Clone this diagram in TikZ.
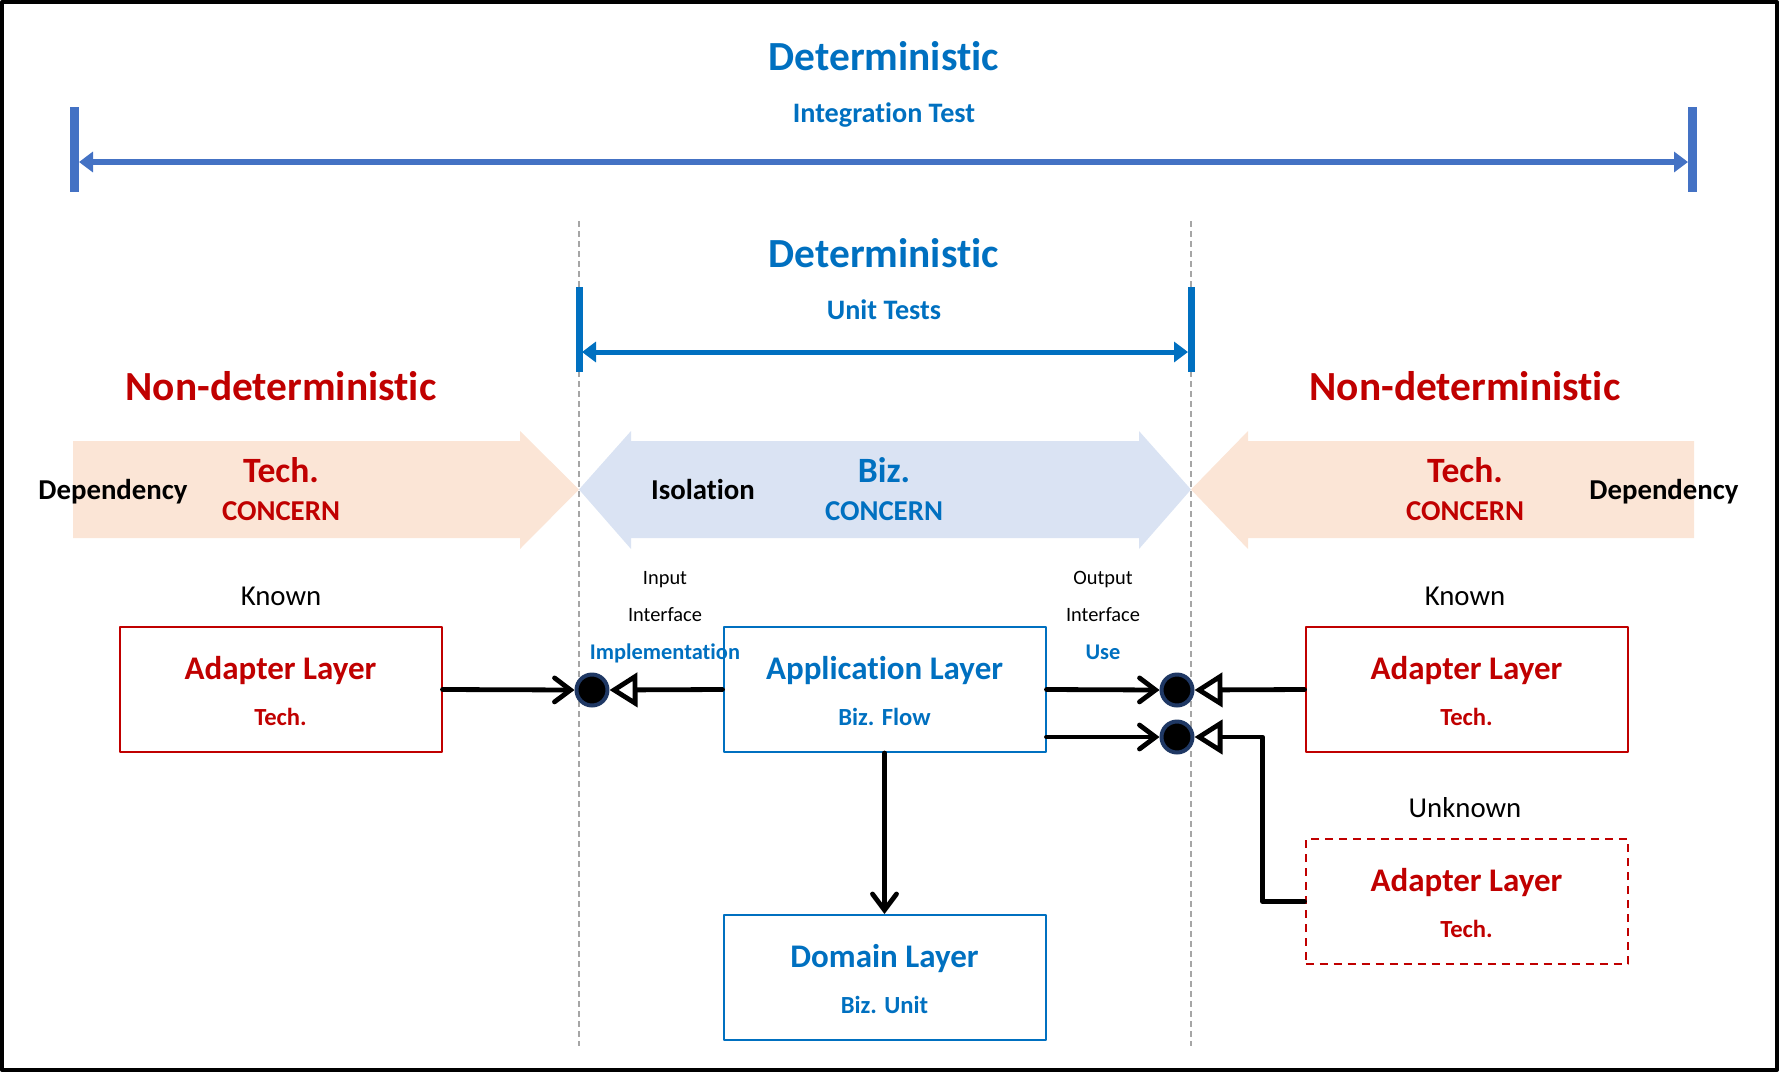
\documentclass[tikz,border=0pt]{standalone}
\usepackage{fontspec}
\setmainfont{Carlito}[Ligatures=NoCommon]
\usetikzlibrary{arrows.meta}
\definecolor{techred}{HTML}{C00000}
\definecolor{bizblue}{HTML}{0070C0}
\definecolor{intblue}{HTML}{4472C4}
\definecolor{techfill}{HTML}{FBE5D6}
\definecolor{bizfill}{HTML}{DAE3F3}
\definecolor{portnavy}{HTML}{1F3864}
\definecolor{guidegray}{HTML}{A6A6A6}
\tikzset{
  txt/.style={anchor=base, inner sep=0pt},
  headline/.style={txt, font=\bfseries\fontsize{20.7}{24}\selectfont},
  testname/.style={txt, font=\bfseries\fontsize{14.1}{17}\selectfont, text=bizblue},
  concern/.style={txt, font=\bfseries\fontsize{17.8}{21}\selectfont},
  concernsub/.style={txt, font=\bfseries\fontsize{14.4}{17}\selectfont},
  sidenote/.style={txt, font=\fontsize{14.4}{17}\selectfont},
  portnote/.style={txt, font=\fontsize{10.2}{12}\selectfont},
  portuse/.style={txt, font=\bfseries\fontsize{11.2}{13}\selectfont, text=bizblue},
  layerbox/.style={draw, line width=1pt, minimum width=161pt, minimum height=62.5pt, inner sep=0pt},
  layertitle/.style={txt, font=\bfseries\fontsize{16.5}{20}\selectfont},
  layersub/.style={txt, font=\bfseries\fontsize{12.3}{15}\selectfont},
  port/.style={circle, fill=black, draw=portnavy, line width=2pt, minimum size=15.5pt, inner sep=0pt},
  conn/.style={line width=2.4pt, line cap=round},
  uses/.style={conn, -{Straight Barb[length=8pt, width=12pt, line cap=round]}},
  implements/.style={conn, -{Triangle[open, length=14pt, width=17pt, fill=white]}},
}
\begin{document}
\begin{tikzpicture}[x=0.5pt, y=-0.5pt, line join=round]
\def\lx{579} \def\rx{1191}
\useasboundingbox (0,0) rectangle (1779,1072);
\draw[line width=2pt] (2,2) rectangle (1777,1070);
% guides
\draw[guidegray, line width=0.75pt, dash pattern=on 3pt off 2pt] (\lx,221)--(\lx,1046) (\rx,221)--(\rx,1046);
% integration test
\node[headline, text=bizblue] (dettop) at (884,70) {Deterministic};
\node[testname] (integ) at (884,122) {Integration Test};
\draw[intblue, line width=4.5pt] (74.5,107)--(74.5,192) (1692,107)--(1692,192);
\draw[intblue, line width=3pt, {Triangle[length=7pt,width=10pt]}-{Triangle[length=7pt,width=10pt]}] (79,162)--(1688,162);
% unit tests
\node[headline, text=bizblue] (detmid) at (884,267) {Deterministic};
\node[testname] (unit) at (884,319) {Unit Tests};
\draw[bizblue, line width=3.5pt] (\lx,287)--(\lx,372) (\rx,287)--(\rx,372);
\draw[bizblue, line width=2.5pt, {Triangle[length=7pt,width=10pt]}-{Triangle[length=7pt,width=10pt]}] (\lx+3,352)--(\rx-3,352);
\node[headline, text=techred] (ndleft) at (281,400) {Non-deterministic};
\node[headline, text=techred] (ndright) at (1465,400) {Non-deterministic};
% concern arrows
\fill[techfill] (73,441)--(520,441)--(520,431)--(\lx,489.5)--(520,549)--(520,538)--(73,538)--cycle;
\fill[bizfill] (\lx,489.5)--(631,431)--(631,441)--(1139,441)--(1139,431)--(\rx,489.5)
  --(1139,549)--(1139,538)--(631,538)--(631,549)--cycle;
\fill[techfill] (\rx,489.5)--(1248,431)--(1248,441)--(1694,441)--(1694,538)--(1248,538)--(1248,549)--cycle;
\node[concern, text=techred] (techl) at (281,482.5) {Tech.};
\node[concernsub, text=techred] (concl) at (281,520) {CONCERN};
\node[concern, text=bizblue] (biz) at (884,482.5) {Biz.};
\node[concernsub, text=bizblue] (concm) at (884,520) {CONCERN};
\node[concern, text=techred] (techr) at (1465,482.5) {Tech.};
\node[concernsub, text=techred] (concr) at (1465,520) {CONCERN};
\node[concernsub] (depl) at (113,499) {Dependency};
\node[concernsub] (iso) at (703,499) {Isolation};
\node[concernsub] (depr) at (1664,499) {Dependency};
% interfaces
\node[portnote] (inp) at (665,584.5) {Input};
\node[portnote] (inif) at (665,621.5) {Interface};
\node[portuse] (impl) at (665,659) {Implementation};
\node[portnote] (outp) at (1103,584.5) {Output};
\node[portnote] (outif) at (1103,621.5) {Interface};
\node[portuse] (use) at (1103,659) {Use};
% layers
\node[sidenote] (knownl) at (281,605) {Known};
\node[sidenote] (knownr) at (1465,605) {Known};
\node[sidenote] (unknown) at (1465,817) {Unknown};
\node[layerbox, draw=techred] (lad) at (280.5,689.5) {};
\node[layerbox, draw=bizblue] (app) at (884.5,689.5) {};
\node[layerbox, draw=techred] (rad) at (1466.5,689.5) {};
\node[layerbox, draw=techred, dashed, dash pattern=on 4pt off 3pt] (uad) at (1466.5,901.5) {};
\node[layerbox, draw=bizblue] (dom) at (884.5,977.5) {};
\node[layertitle, text=techred] at ([yshift=5.25pt]lad.center) {Adapter Layer};
\node[layersub, text=techred] at ([yshift=-17.75pt]lad.center) {Tech.};
\node[layertitle, text=bizblue] at ([yshift=5.25pt]app.center) {Application Layer};
\node[layersub, text=bizblue] at ([yshift=-17.75pt]app.center) {Biz. Flow};
\node[layertitle, text=techred] at ([yshift=5.25pt]rad.center) {Adapter Layer};
\node[layersub, text=techred] at ([yshift=-17.75pt]rad.center) {Tech.};
\node[layertitle, text=techred] at ([yshift=5.25pt]uad.center) {Adapter Layer};
\node[layersub, text=techred] at ([yshift=-17.75pt]uad.center) {Tech.};
\node[layertitle, text=bizblue] at ([yshift=5.25pt]dom.center) {Domain Layer};
\node[layersub, text=bizblue] at ([yshift=-17.75pt]dom.center) {Biz. Unit};
% ports
\node[port] (inport) at (592,690) {};
\node[port] (outa) at (1177,690) {};
\node[port] (outb) at (1177,737) {};
\draw[uses] (lad.east)--(inport.west);
\draw[implements] (app.west)--(inport.east);
\draw[uses] (app.east)--(outa.west);
\draw[uses] (app.east |- outb)--(outb.west);
\draw[implements] (rad.west)--(outa.east);
\draw[implements] (uad.west)--++(-42,0) |- (outb.east);
\draw[uses] (app.south)--(dom.north);
\end{tikzpicture}
\end{document}
